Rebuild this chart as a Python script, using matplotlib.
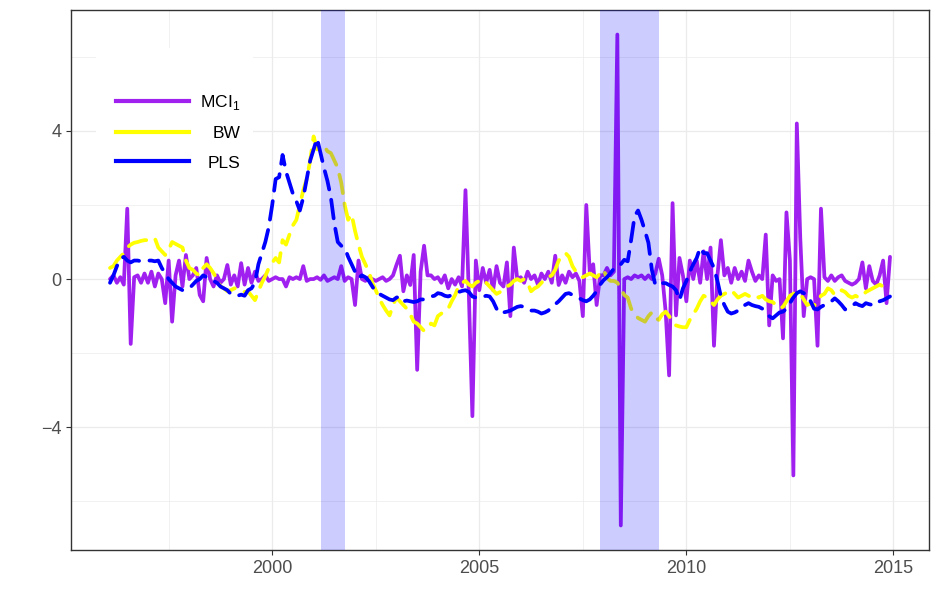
import numpy as np
import matplotlib
matplotlib.use('Agg')
from matplotlib import pyplot as plt
from matplotlib.lines import Line2D
from matplotlib.patches import Rectangle

# monthly series, Feb 1996 - Dec 2014 (one row per year)
mci = [0.0, 0.1, -0.1, 0.05, -0.15, 1.9, -1.75, 0.05, 0.1, -0.1, 0.15,
       -0.1, 0.2, -0.2, 0.15, 0.0, -0.65, 0.5, -1.15, 0.1, 0.5, -0.2, 0.65,
       0.0, 0.1, 0.3, -0.43, -0.6, 0.57, 0.0, -0.2, 0.1, -0.1, 0.0, 0.38,
       -0.15, 0.1, -0.2, 0.43, -0.15, 0.3, -0.1, 0.2, -0.05, 0.0, 0.1, -0.05,
       0.0, 0.05, 0.0, 0.0, -0.2, 0.05, 0.0, 0.05, 0.0, 0.35, -0.05, 0.0,
       0.0, 0.05, -0.02, 0.1, -0.05, 0.0, 0.05, 0.0, 0.35, -0.05, 0.05, 0.0,
       -0.7, 0.5, 0.0, -0.05, 0.05, 0.0, -0.05, 0.0, 0.05, -0.05, 0.0, 0.1,
       0.38, 0.63, -0.33, 0.1, -0.16, 0.65, -2.45, 0.2, 0.9, 0.1, 0.1, 0.0,
       0.05, -0.1, 0.1, -0.25, 0.0, -0.15, 0.05, -0.2, 2.4, -0.5, -3.7, 0.5,
       -0.3, 0.3, -0.1, 0.25, -0.3, 0.35, -0.1, -0.2, 0.45, -1.0, 0.85, 0.0,
       0.05, -0.1, 0.2, 0.0, 0.1, -0.15, 0.15, 0.0, 0.2, -0.1, 0.63, -0.16,
       0.1, -0.1, 0.2, 0.05, 0.15, -0.05, -1.0, 2.0, 0.2, 0.4, -0.7, 0.1,
       0.1, 0.3, 0.1, 0.2, 6.6, -6.65, 0.0, 0.05, 0.0, 0.1, 0.05, 0.1,
       0.0, 0.1, 0.0, 0.15, 0.55, 0.1, -0.88, -2.6, 2.05, -0.98, 0.57, 0.1,
       -0.6, 0.5, 0.0, 0.5, -0.1, 0.75, 0.0, 0.85, -1.8, 0.1, 1.05, 0.1,
       0.3, -0.1, 0.3, 0.0, 0.2, -0.05, 0.5, 0.2, -0.05, 0.1, 0.0, 1.2,
       -1.25, 0.1, -0.05, 0.0, -1.6, 1.8, 0.5, -5.3, 4.2, 1.1, -1.0, 0.0,
       0.05, 0.0, -1.8, 1.9, 0.05, -0.05, 0.1, -0.05, 0.05, 0.1, -0.05, -0.1,
       -0.15, -0.1, 0.0, 0.45, -0.25, 0.35, -0.05, -0.15, 0.1, 0.5, -0.65, 0.6]

bw = [0.3, 0.35, 0.5, 0.6, 0.7, 0.85, 0.93, 0.98, 1.0, 1.03, 1.05,
      1.05, 1.1, 1.1, 0.85, 0.75, 0.65, 0.8, 1.0, 0.95, 0.9, 0.85, 0.5,
      0.3, 0.25, 0.15, 0.1, 0.3, 0.4, 0.3, 0.16, 0.0, -0.2, -0.25, -0.33,
      -0.3, -0.25, -0.25, -0.3, -0.35, -0.33, -0.45, -0.57, -0.33, -0.1, 0.08, 0.3,
      0.44, 0.57, 0.45, 1.05, 0.93, 1.2, 1.45, 1.6, 2.0, 2.4, 2.7, 3.2,
      3.85, 3.5, 3.55, 3.6, 3.45, 3.4, 3.2, 3.0, 2.6, 2.0, 1.6, 1.75,
      1.3, 0.93, 0.6, 0.4, 0.2, -0.1, -0.3, -0.52, -0.7, -0.85, -0.98, -0.7,
      -0.5, -0.6, -0.7, -0.8, -0.95, -1.15, -1.2, -1.3, -1.4, -1.3, -1.2, -1.25,
      -1.0, -0.93, -0.85, -0.8, -0.6, -0.43, -0.2, -0.1, -0.05, -0.15, -0.2, -0.1,
      -0.05, -0.15, -0.1, -0.2, -0.3, -0.4, -0.35, -0.3, -0.2, -0.15, -0.05, 0.0,
      -0.05, 0.0, -0.1, -0.33, -0.25, -0.2, -0.1, 0.0, 0.05, 0.1, 0.25, 0.5,
      0.6, 0.7, 0.6, 0.35, 0.2, 0.1, 0.05, 0.1, 0.15, 0.1, 0.05, 0.15,
      0.25, 0.03, -0.05, -0.05, -0.1, -0.25, -0.43, -0.5, -0.8, -0.95, -1.05, -1.1,
      -1.15, -1.0, -0.9, -1.05, -1.1, -0.95, -0.88, -1.0, -1.15, -1.25, -1.28, -1.3,
      -1.3, -1.1, -0.95, -0.8, -0.6, -0.45, -0.5, -0.6, -0.7, -0.55, -0.45, -0.4,
      -0.35, -0.3, -0.4, -0.5, -0.45, -0.4, -0.45, -0.5, -0.45, -0.5, -0.45, -0.55,
      -0.6, -0.62, -0.7, -0.79, -0.75, -0.6, -0.45, -0.4, -0.35, -0.4, -0.55, -0.7,
      -0.65, -0.72, -0.6, -0.45, -0.4, -0.25, -0.3, -0.43, -0.38, -0.3, -0.35, -0.45,
      -0.5, -0.45, -0.5, -0.45, -0.35, -0.3, -0.25, -0.2, -0.15, -0.2, -0.25, -0.2]

pls = [-0.1, 0.1, 0.35, 0.55, 0.6, 0.5, 0.45, 0.5, 0.5, 0.48, 0.5,
       0.5, 0.5, 0.48, 0.5, 0.3, 0.15, 0.0, -0.1, -0.2, -0.25, -0.3, -0.28,
       -0.25, -0.15, -0.05, 0.0, 0.1, 0.05, 0.0, -0.05, -0.1, -0.2, -0.25, -0.3,
       -0.4, -0.45, -0.45, -0.42, -0.45, -0.3, -0.25, -0.1, 0.4, 0.7, 1.0, 1.4,
       2.0, 2.7, 2.75, 3.35, 2.9, 2.6, 2.3, 2.1, 1.85, 2.2, 2.7, 3.2,
       3.5, 3.8, 3.4, 3.0, 2.65, 2.2, 1.5, 1.0, 0.9, 0.85, 0.6, 0.4,
       0.2, 0.03, 0.1, 0.05, -0.05, -0.2, -0.35, -0.4, -0.45, -0.5, -0.55, -0.57,
       -0.5, -0.47, -0.6, -0.58, -0.6, -0.62, -0.6, -0.55, -0.55, -0.5, -0.47, -0.45,
       -0.38, -0.4, -0.45, -0.47, -0.43, -0.4, -0.35, -0.32, -0.3, -0.35, -0.47, -0.5,
       -0.52, -0.48, -0.45, -0.47, -0.6, -0.8, -0.93, -0.9, -0.88, -0.85, -0.8, -0.75,
       -0.73, -0.75, -0.8, -0.85, -0.85, -0.88, -0.93, -0.9, -0.85, -0.75, -0.68, -0.6,
       -0.5, -0.4, -0.38, -0.43, -0.47, -0.52, -0.57, -0.6, -0.55, -0.45, -0.33, -0.15,
       -0.03, 0.05, 0.16, 0.28, 0.3, 0.4, 0.52, 0.48, 1.06, 1.7, 1.85, 1.6,
       1.3, 0.98, 0.25, -0.16, -0.11, -0.11, -0.11, -0.16, -0.2, -0.3, -0.57, -0.25,
       -0.05, 0.2, 0.4, 0.57, 0.85, 0.7, 0.7, 0.5, 0.3, -0.05, -0.47, -0.7,
       -0.88, -0.93, -0.9, -0.85, -0.8, -0.7, -0.65, -0.7, -0.73, -0.75, -0.8, -0.88,
       -1.0, -1.06, -0.98, -0.9, -0.88, -0.8, -0.65, -0.5, -0.38, -0.33, -0.38, -0.43,
       -0.6, -0.8, -0.82, -0.75, -0.7, -0.65, -0.6, -0.52, -0.6, -0.7, -0.82, -0.78,
       -0.73, -0.65, -0.7, -0.73, -0.65, -0.68, -0.7, -0.7, -0.6, -0.57, -0.52, -0.47]

recessions = [(2001.167, 2001.75), (2007.917, 2009.333)]
labels = ['MCI$_{\\mathregular{1}}$', 'BW', 'PLS']
colors = ['#A020F0', '#FFFF00', '#0000FF']

dates = 1996 + (np.arange(len(mci)) + 1) / 12

plt.rcParams['font.family'] = 'Liberation Sans'
fig = plt.figure(figsize=(9.42, 6.15), dpi=100)
ax = fig.add_axes([71 / 942, 1 - 550 / 615, 858 / 942, 540 / 615])

lw = 2.7
ax.plot(dates, mci, color=colors[0], lw=lw, solid_capstyle='round',
        solid_joinstyle='round', zorder=3)
ax.plot(dates, bw, color=colors[1], lw=lw, dashes=(5, 2.8),
        dash_capstyle='round', dash_joinstyle='round', zorder=3)
ax.plot(dates, pls, color=colors[2], lw=lw, dashes=(5, 2.8),
        dash_capstyle='round', dash_joinstyle='round', zorder=3)

for a, b in recessions:
    ax.axvspan(a, b, color='blue', alpha=0.2, lw=0, zorder=4)

ax.set_xticks([2000, 2005, 2010, 2015])
ax.set_xticks([1997.5, 2002.5, 2007.5, 2012.5], minor=True)
ax.set_yticks([-4, 0, 4])
ax.set_yticks([-6, -2, 2, 6], minor=True)
ax.set_axisbelow(True)
ax.grid(which='major', color='#EBEBEB', lw=0.9)
ax.grid(which='minor', color='#EBEBEB', lw=0.5)
for s in ax.spines.values():
    s.set_color('#333333')
    s.set_linewidth(1.0)
ax.tick_params(which='major', length=3.6, width=0.8, color='#333333',
               labelcolor='#4D4D4D', labelsize=13, pad=3.4)
ax.tick_params(which='minor', length=0)

# legend background
ax.add_patch(Rectangle((25 / 858, 1 - 178 / 540), 157 / 858, 140 / 540,
                       transform=ax.transAxes, facecolor='white',
                       edgecolor='none', zorder=5))
handles = [Line2D([], [], color=c, lw=3.0) for c in colors]
leg = ax.legend(handles, labels, loc='center left',
                bbox_to_anchor=(45 / 858, 1 - 122 / 540), frameon=False,
                fontsize=12.5, handlelength=4.2, handletextpad=0.63,
                labelspacing=0.8, borderpad=0, borderaxespad=0)
leg.set_zorder(6)

# right-align legend labels
fig.canvas.draw()
r = fig.canvas.get_renderer()
texts = leg.get_texts()
widths = [t.get_window_extent(r).width for t in texts]
for t, w in zip(texts, widths):
    t.set_x(max(widths) - w)

fig.savefig('out.png', dpi=100)
